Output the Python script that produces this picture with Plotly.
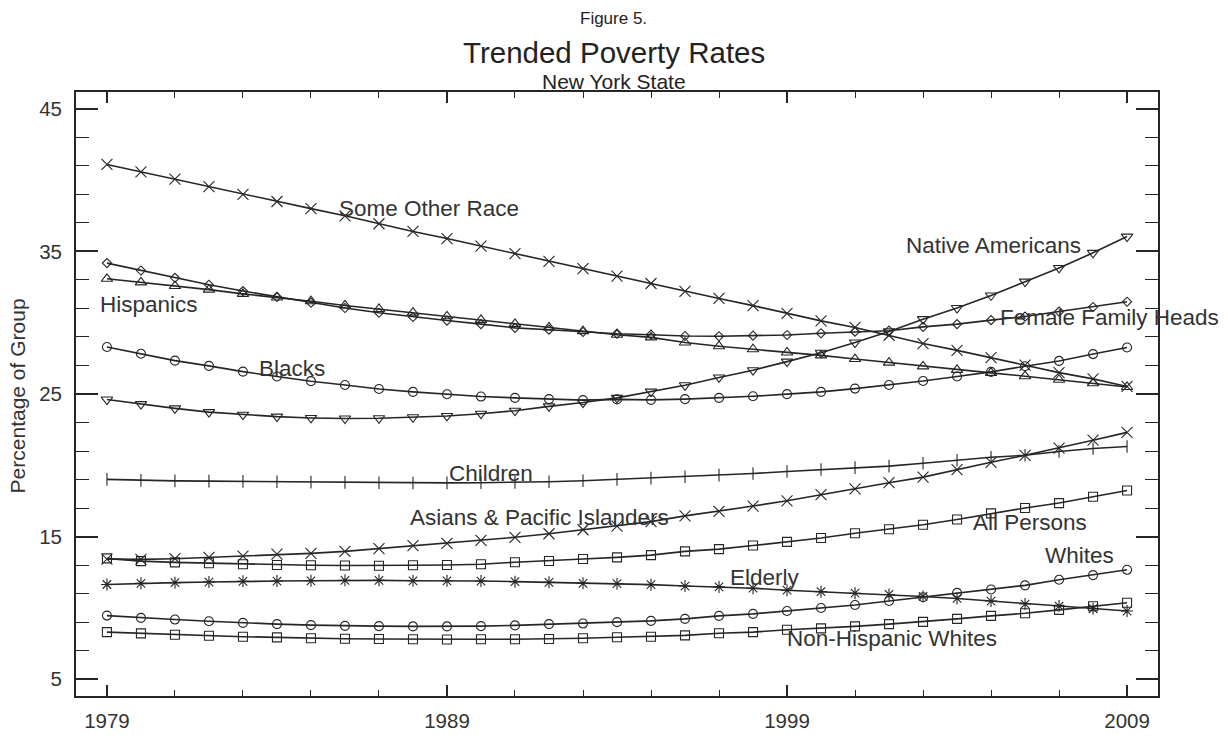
import plotly.graph_objects as go

years = list(range(1979, 2010))

some_other_race = [41.1, 40.58, 40.07, 39.54, 39.0, 38.5, 38.0, 37.5, 36.94, 36.4, 35.9, 35.37,
                   34.85, 34.3, 33.8, 33.26, 32.75, 32.2, 31.7, 31.2, 30.65, 30.13, 29.67,
                   29.12, 28.54, 28.06, 27.55, 27.03, 26.5, 26.06, 25.53]
female_family_heads = [34.18, 33.66, 33.15, 32.66, 32.22, 31.81, 31.4, 31.03, 30.7, 30.4, 30.15, 29.9,
                       29.64, 29.51, 29.35, 29.23, 29.16, 29.07, 29.05, 29.09, 29.14, 29.26, 29.37,
                       29.44, 29.71, 29.9, 30.18, 30.43, 30.78, 31.1, 31.47]
hispanics = [33.08, 32.83, 32.57, 32.32, 32.02, 31.77, 31.51, 31.21, 30.96, 30.71, 30.45, 30.2,
             29.92, 29.67, 29.41, 29.16, 28.97, 28.61, 28.35, 28.14, 27.91, 27.71, 27.45,
             27.2, 26.94, 26.69, 26.48, 26.25, 26.0, 25.75, 25.49]
blacks = [28.3, 27.82, 27.34, 26.97, 26.57, 26.23, 25.9, 25.63, 25.35, 25.15, 24.98, 24.82,
          24.73, 24.64, 24.57, 24.62, 24.59, 24.64, 24.73, 24.84, 24.99, 25.15, 25.38,
          25.63, 25.91, 26.23, 26.55, 26.95, 27.32, 27.8, 28.26]
native_americans = [24.61, 24.29, 23.99, 23.73, 23.55, 23.41, 23.32, 23.28, 23.3, 23.37, 23.46, 23.62,
                    23.83, 24.13, 24.4, 24.73, 25.17, 25.61, 26.16, 26.67, 27.27, 27.89, 28.61,
                    29.39, 30.25, 31.03, 31.91, 32.88, 33.84, 34.9, 36.04]
children = [19.01, 18.94, 18.91, 18.89, 18.87, 18.85, 18.82, 18.8, 18.78, 18.76, 18.77, 18.78,
            18.8, 18.85, 18.92, 19.01, 19.1, 19.2, 19.31, 19.42, 19.56, 19.7, 19.84,
            19.94, 20.14, 20.35, 20.56, 20.7, 20.97, 21.18, 21.32]
asians_pacific = [13.42, 13.4, 13.45, 13.54, 13.63, 13.77, 13.82, 13.96, 14.16, 14.37, 14.53, 14.74,
                  14.95, 15.2, 15.48, 15.73, 16.05, 16.45, 16.77, 17.14, 17.51, 17.95, 18.34,
                  18.78, 19.17, 19.7, 20.21, 20.7, 21.21, 21.76, 22.31]
all_persons = [13.47, 13.28, 13.19, 13.13, 13.06, 13.01, 12.99, 12.97, 12.96, 12.99, 13.01, 13.06,
               13.2, 13.29, 13.43, 13.54, 13.7, 13.96, 14.12, 14.37, 14.63, 14.9, 15.23,
               15.51, 15.83, 16.2, 16.63, 17.01, 17.35, 17.79, 18.23]
elderly = [11.64, 11.72, 11.77, 11.81, 11.86, 11.88, 11.9, 11.93, 11.93, 11.9, 11.9, 11.88,
           11.84, 11.79, 11.72, 11.7, 11.63, 11.53, 11.47, 11.38, 11.24, 11.14, 11.03,
           10.94, 10.8, 10.66, 10.48, 10.27, 10.13, 9.94, 9.78]
whites = [9.46, 9.3, 9.18, 9.06, 8.95, 8.86, 8.79, 8.74, 8.72, 8.7, 8.7, 8.72,
          8.77, 8.86, 8.9, 9.0, 9.09, 9.23, 9.44, 9.58, 9.78, 9.99, 10.2,
          10.48, 10.75, 11.05, 11.29, 11.58, 11.97, 12.3, 12.67]
non_hispanic_whites = [8.3, 8.21, 8.12, 8.05, 7.98, 7.93, 7.87, 7.84, 7.82, 7.8, 7.78, 7.8,
                       7.8, 7.82, 7.87, 7.94, 7.98, 8.07, 8.22, 8.3, 8.47, 8.56, 8.7,
                       8.86, 9.02, 9.23, 9.44, 9.62, 9.86, 10.11, 10.36]

series = [
    ("Some Other Race", some_other_race, "x-thin-open", 11),
    ("Female Family Heads", female_family_heads, "diamond-open", 7),
    ("Hispanics", hispanics, "triangle-up-open", 10),
    ("Blacks", blacks, "circle-open", 9),
    ("Native Americans", native_americans, "triangle-down-open", 10),
    ("Children", children, "line-ns-open", 9),
    ("Asians & Pacific Islanders", asians_pacific, "x-thin-open", 11),
    ("All Persons", all_persons, "square-open", 9),
    ("Elderly", elderly, "asterisk-open", 10),
    ("Whites", whites, "circle-open", 9),
    ("Non-Hispanic Whites", non_hispanic_whites, "square-open", 9),
]

# in-plot series names (data coordinates of the text centres)
label_names = ["Some Other Race", "Native Americans", "Hispanics", "Female Family Heads", "Blacks",
               "Children", "Asians & Pacific Islanders", "All Persons", "Whites", "Elderly",
               "Non-Hispanic Whites"]
label_x = [1988.46, 2005.06, 1980.24, 2008.49, 1984.43, 1990.28, 1991.71, 2006.16, 2007.6, 1998.35, 2002.09]
label_y = [38.0, 35.4, 31.3, 30.4, 26.8, 19.4, 16.35, 16.0, 13.65, 12.15, 7.84]

INK = "#262626"
FONT = "Liberation Sans, Arial, sans-serif"

fig = go.Figure()
for name, vals, sym, sz in series:
    fig.add_trace(go.Scatter(
        x=years, y=vals, name=name, mode="lines+markers",
        line=dict(color=INK, width=1.6),
        marker=dict(symbol=sym, size=sz, color=INK, line=dict(color=INK, width=1.1)),
        showlegend=False,
    ))

for t, x, y in zip(label_names, label_x, label_y):
    fig.add_annotation(x=x, y=y, text=t, showarrow=False, xanchor="center", yanchor="middle",
                       font=dict(family=FONT, size=22.5, color="#333"))

titles = [("Figure 5.", 1.121, 17), ("Trended Poverty Rates", 1.066, 29.5), ("New York State", 1.018, 21)]
for t, yp, s in titles:
    fig.add_annotation(xref="paper", yref="paper", x=0.497, y=yp, text=t, showarrow=False,
                       xanchor="center", yanchor="middle", font=dict(family=FONT, size=s, color="#222"))

fig.add_annotation(xref="paper", yref="paper", x=-0.054, y=0.497, text="Percentage of Group",
                   textangle=-90, showarrow=False, xanchor="center", yanchor="middle",
                   font=dict(family=FONT, size=21, color="#333"))

fig.update_xaxes(range=[1978.09, 2009.91], tickmode="linear", tick0=1979, dtick=10,
                 ticks="inside", ticklen=11, tickwidth=1.5, tickcolor=INK,
                 minor=dict(ticks="inside", ticklen=6, dtick=2, tick0=1979, tickwidth=1.3, tickcolor=INK),
                 showline=True, linecolor=INK, linewidth=1.8, mirror="allticks",
                 showgrid=False, zeroline=False, ticklabelstandoff=5,
                 tickfont=dict(family=FONT, size=20.5, color="#333"))
fig.update_yaxes(range=[3.82, 46.18], tickmode="linear", tick0=5, dtick=10,
                 ticks="inside", ticklen=22, tickwidth=1.5, tickcolor=INK,
                 minor=dict(ticks="inside", ticklen=13, dtick=2, tick0=5, tickwidth=1.3, tickcolor=INK),
                 showline=True, linecolor=INK, linewidth=1.8, mirror="allticks",
                 showgrid=False, zeroline=False, ticklabelstandoff=8,
                 tickfont=dict(family=FONT, size=20.5, color="#333"))

fig.update_layout(width=1228, height=744, margin=dict(l=76, r=70, t=92, b=40),
                  paper_bgcolor="white", plot_bgcolor="white",
                  font=dict(family=FONT, color="#333"))

fig.write_html("out.html")
